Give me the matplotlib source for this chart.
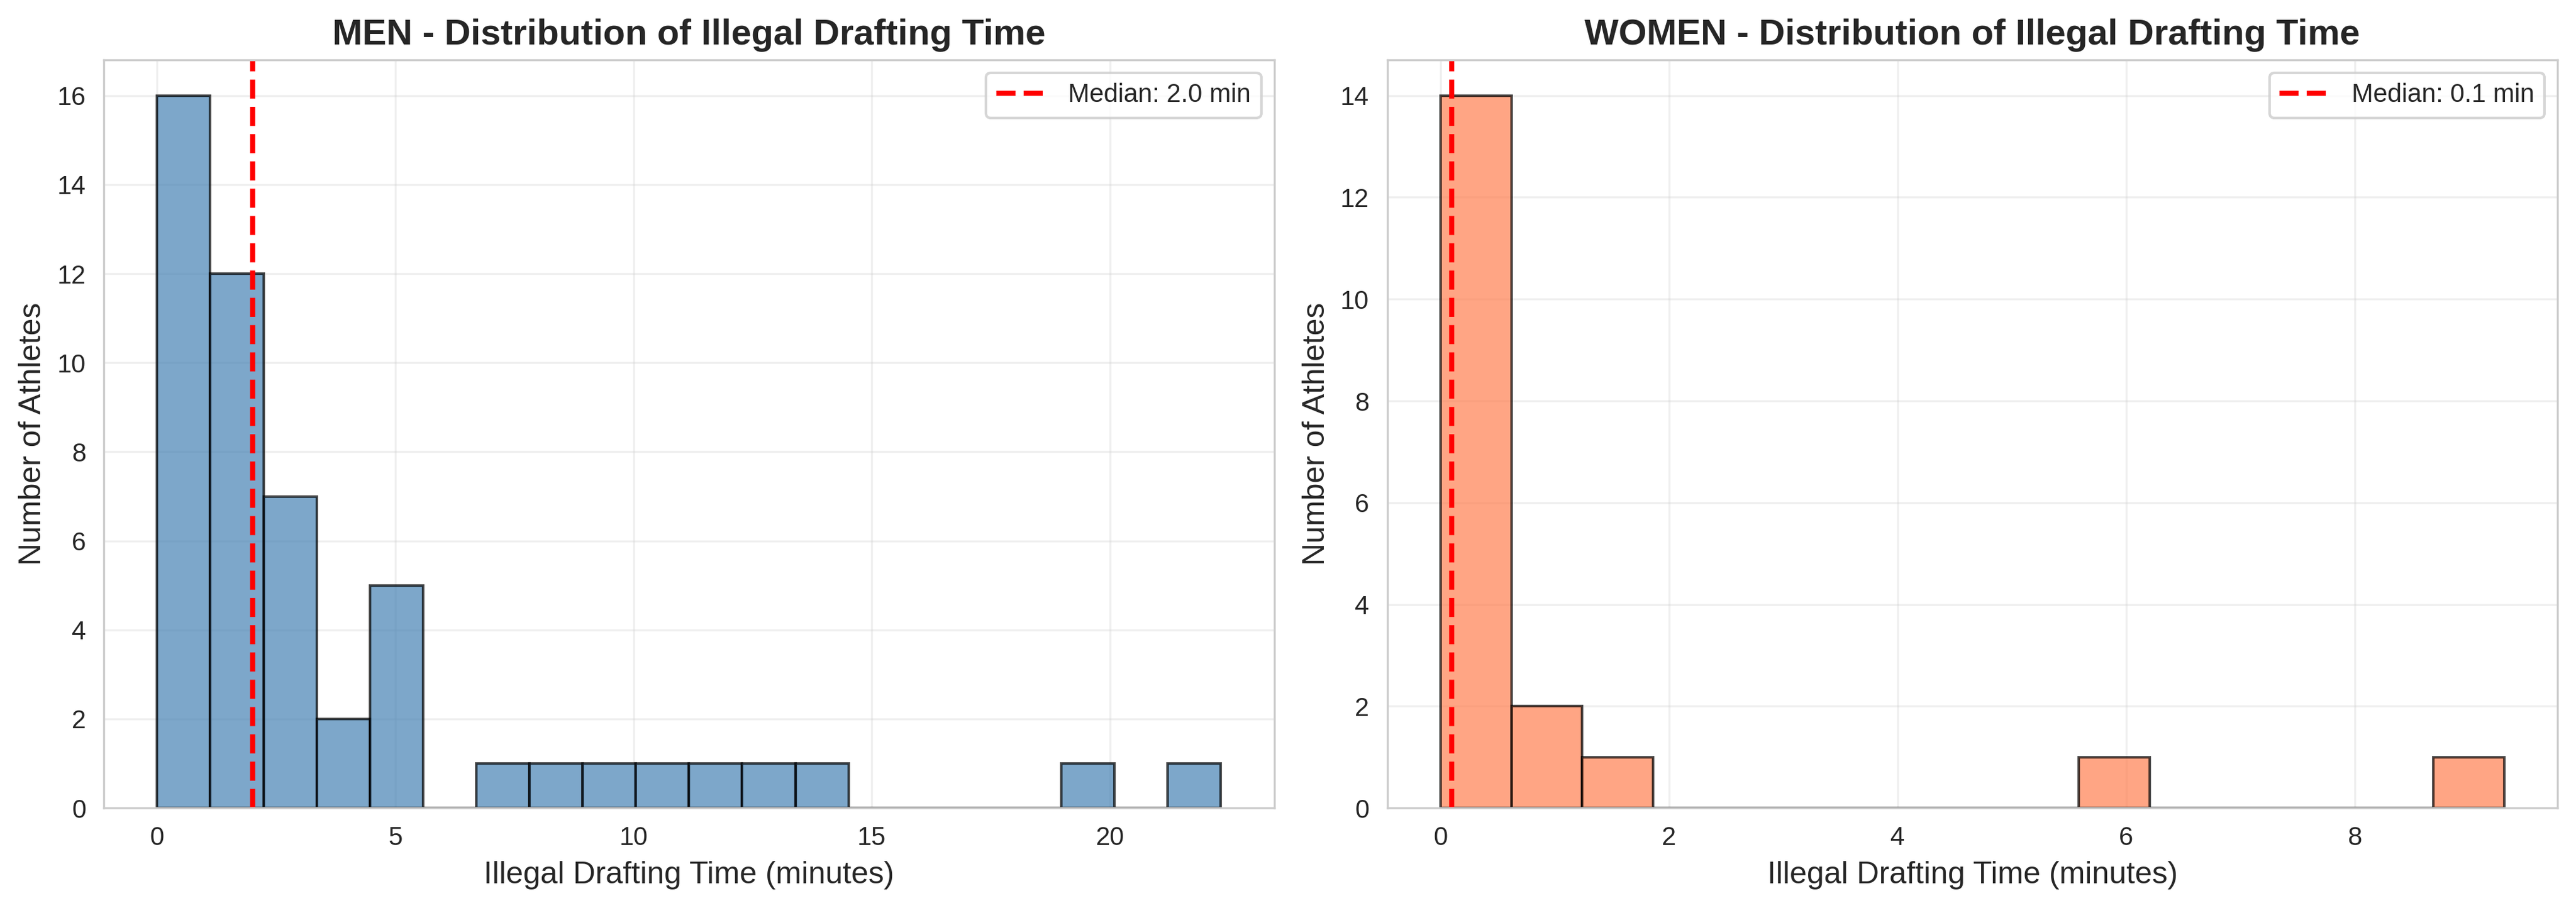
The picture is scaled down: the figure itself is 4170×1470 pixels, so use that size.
import numpy as np
import matplotlib
matplotlib.use("Agg")
import matplotlib.pyplot as plt
import seaborn as sns

sns.set_style("whitegrid")
plt.rcParams['font.family'] = ['Liberation Sans', 'DejaVu Sans']

# Men histogram: 20 equal bins over [0, max]
men_max = 22.33
men_counts = [16, 12, 7, 2, 5, 0, 1, 1, 1, 1, 1, 1, 1, 0, 0, 0, 0, 1, 0, 1]
men_median = 2.0

# Women histogram: 15 equal bins over [0, max]
women_max = 9.31
women_counts = [14, 2, 1, 0, 0, 0, 0, 0, 0, 1, 0, 0, 0, 0, 1]
women_median = 0.1

panels = [
    ("MEN - Distribution of Illegal Drafting Time", men_max, men_counts, men_median, "steelblue"),
    ("WOMEN - Distribution of Illegal Drafting Time", women_max, women_counts, women_median, "coral"),
]

fig, axes = plt.subplots(1, 2, figsize=(14, 5), dpi=300)
for ax, (title, vmax, counts, med, color) in zip(axes, panels):
    edges = np.linspace(0, vmax, len(counts) + 1)
    centers = (edges[:-1] + edges[1:]) / 2
    ax.hist(centers, bins=edges, weights=counts, color=color, alpha=0.7,
            edgecolor="black", linewidth=1)
    ax.axvline(med, color="red", linestyle="--", linewidth=2,
               label=f"Median: {med:.1f} min")
    ax.set_title(title, fontsize=14, fontweight="bold")
    ax.set_xlabel("Illegal Drafting Time (minutes)", fontsize=12)
    ax.set_ylabel("Number of Athletes", fontsize=12)
    ax.grid(True, alpha=0.3)
    ax.legend(loc="upper right", fontsize=10)
    ax.tick_params(labelsize=10)

plt.tight_layout()
plt.savefig("out.png", dpi=300, bbox_inches="tight")
